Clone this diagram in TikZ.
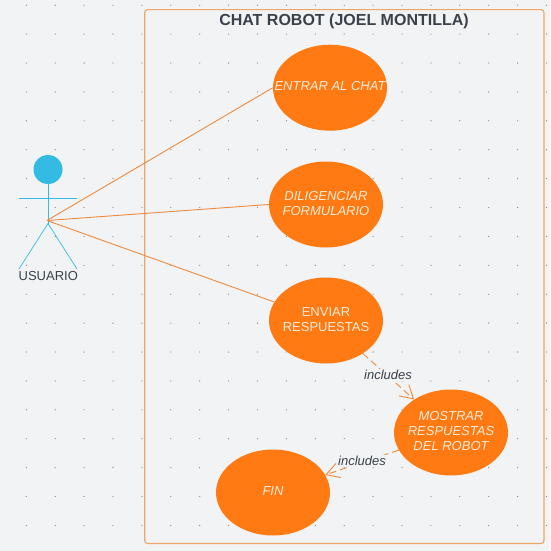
\documentclass[tikz,border=0pt]{standalone}
\usepackage{fontspec}
\setmainfont{Liberation Sans}
\usetikzlibrary{arrows.meta,shapes.geometric}
\definecolor{bgc}{HTML}{F2F3F5}
\definecolor{orf}{HTML}{FF7A12}
\definecolor{orl}{HTML}{EE8A3C}
\definecolor{frm}{HTML}{EFA565}
\definecolor{blu}{HTML}{33BBE3}
\definecolor{txt}{HTML}{3A414A}
\definecolor{dotc}{HTML}{85888C}
\newcommand\uctext[1]{\raisebox{3pt}{\makebox[0pt]{\begin{tabular}{@{}c@{}}#1\end{tabular}}}}
\tikzset{
  usecase/.style={shape=ellipse,fill=orf,draw=none,minimum width=114pt,minimum height=86pt,inner sep=0pt,
    text=white!85!orange,font=\fontsize{13}{15}\selectfont},
  usecasei/.style={usecase,font=\fontsize{13}{15}\selectfont\itshape},
  link/.style={draw=orl,line width=0.9pt},
  inc/.style={draw=orl,line width=0.9pt,dash pattern=on 7pt off 4pt,-{Straight Barb[length=13pt,width=15pt,line width=0.9pt]}},
  inclabel/.style={fill=bgc,inner sep=1.5pt,text=txt,font=\fontsize{13}{15}\selectfont\itshape},
  actorline/.style={draw=blu,line width=0.7pt}
}
\begin{document}
\begin{tikzpicture}[x=1pt,y=-1pt]
\useasboundingbox (0,0) rectangle (550,551);
\fill[bgc] (0,0) rectangle (550,551);
\foreach \i in {0,...,18}{\foreach \j in {0,...,18}{
  \fill[dotc] ({26.3+28.9*\i},{5.2+28.9*\j}) circle (0.65pt);
}}
\draw[draw=frm,line width=1.1pt,rounded corners=3pt] (144.7,9.7) rectangle (544,543.5);
\node[text=txt,font=\fontsize{16}{18}\selectfont\bfseries] (title) at (344,21) {CHAT ROBOT (JOEL MONTILLA)};
% actor
\fill[blu] (48,169.5) circle (14.5pt);
\coordinate (head) at (48,184);
\coordinate (hip) at (48,223.5);
\coordinate (armL) at (19,198.5);
\coordinate (armR) at (77,198.5);
\coordinate (legL) at (19,269);
\coordinate (legR) at (77,269);
\coordinate (actor) at (47,220.5);
\draw[actorline] (head) -- (hip);
\draw[actorline] (armL) -- (armR);
\draw[actorline] (legL) -- (hip) -- (legR);
\node[text=txt,font=\fontsize{13}{15}\selectfont] (usuario) at (48.3,276.5) {USUARIO};
% use cases
\node[usecasei] (entrar) at (330,87.7) {\uctext{ENTRAR AL CHAT}};
\node[usecasei] (dilig) at (326,204.5) {\uctext{DILIGENCIAR\\FORMULARIO}};
\node[usecase] (enviar) at (326,320.5) {\uctext{ENVIAR\\RESPUESTAS}};
\node[usecasei] (mostrar) at (451,432.5) {\uctext{MOSTRAR\\RESPUESTAS\\DEL ROBOT}};
\node[usecasei] (fin) at (273,492.5) {\uctext{FIN}};
% connectors
\draw[link] (actor) -- (entrar.west);
\draw[link] (actor) -- (dilig.west);
\draw[link] (actor) -- (enviar);
\draw[inc] (enviar) -- (mostrar);
\draw[inc] (mostrar) -- (fin);
\node[inclabel] (l1) at (388,375) {includes};
\node[inclabel] (l2) at (362,461) {includes};
\end{tikzpicture}
\end{document}
